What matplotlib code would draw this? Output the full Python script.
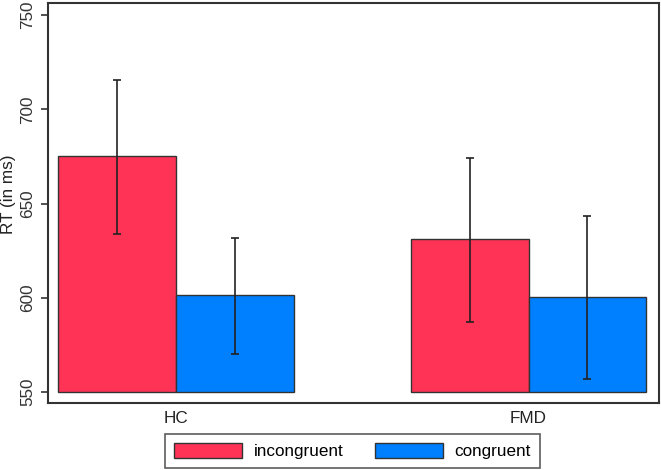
import matplotlib
matplotlib.use("Agg")
import matplotlib.pyplot as plt
import numpy as np

plt.rcParams['font.family'] = ['Liberation Sans', 'DejaVu Sans']

groups = ["HC", "FMD"]
series = ["incongruent", "congruent"]
means = {"incongruent": [675.2, 631.2], "congruent": [601.6, 600.4]}
lower = {"incongruent": [633.8, 587.1], "congruent": [570.3, 557.1]}
upper = {"incongruent": [715.5, 674.0], "congruent": [631.7, 643.4]}
colors = {"incongruent": "#FF3356", "congruent": "#0080FF"}
yticks = [550, 600, 650, 700, 750]

fig = plt.figure(figsize=(6.61, 4.70), dpi=100)
ax = fig.add_axes([48/661, 1-403/470, (659-48)/661, 400/470])

w = 0.334
x = np.arange(len(groups))
base = 550
for i, s in enumerate(series):
    xs = x + (i - 0.5) * w
    m = np.array(means[s])
    ax.bar(xs, m - base, bottom=base, width=w, color=colors[s],
           edgecolor="#333333", linewidth=1.0, label=s, zorder=2)
    lo = m - np.array(lower[s])
    hi = np.array(upper[s]) - m
    ax.errorbar(xs, m, yerr=[lo, hi], fmt="none", ecolor="#222222",
                elinewidth=1.2, capsize=3.2, capthick=1.2, zorder=3)

ax.set_xlim(-0.363, 1.37)
ax.set_ylim(544.2, 756.4)
ax.set_yticks(yticks)
ax.set_yticklabels([str(t) for t in yticks], rotation=90, va="center", fontsize=12.3, color="#333333")
ax.set_xticks(x)
ax.set_xticklabels(groups, fontsize=12.3, color="#222222")
ax.tick_params(axis="x", length=0, pad=6)
ax.tick_params(axis="y", length=5, width=1.2, color="#333333", pad=4)
for sp in ax.spines.values():
    sp.set_color("#333333")
    sp.set_linewidth(1.5)

fig.text(8.5/661, 1-194/470, "RT (in ms)", rotation=90, ha="center", va="center",
         fontsize=12.3, color="#222222")

leg = fig.legend(loc="center", bbox_to_anchor=((167+538)/2/661, 1-(434+468)/2/470),
                 ncol=2, fontsize=12.3, frameon=True, fancybox=False,
                 handlelength=4.0, handleheight=1.0, handletextpad=0.66,
                 columnspacing=1.85, borderpad=0.5)
leg.get_frame().set_edgecolor("#333333")
leg.get_frame().set_linewidth(1.2)

fig.savefig("out.png", dpi=100)
